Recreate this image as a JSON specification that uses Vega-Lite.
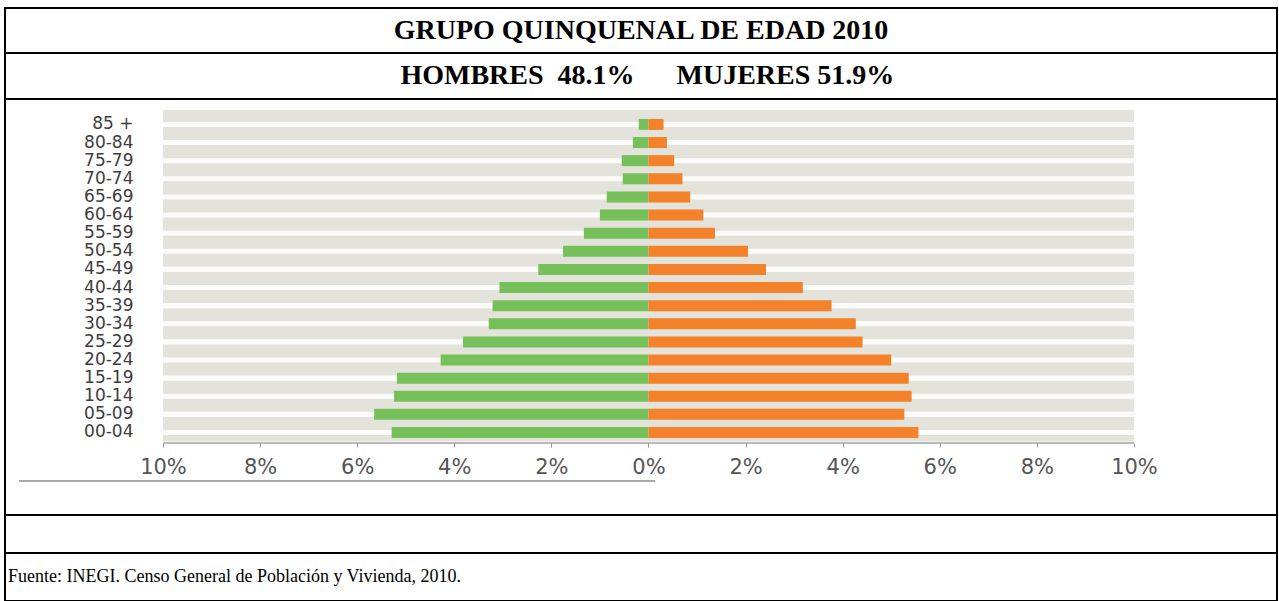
{
  "$schema": "https://vega.github.io/schema/vega-lite/v6.json",
  "background": "white",
  "padding": {"left": 4, "top": 7, "right": 1, "bottom": 0},
  "spacing": 0,
  "bounds": "flush",
  "datasets": {
    "grupos": [
      {"edad": "85 +"}, {"edad": "80-84"}, {"edad": "75-79"}, {"edad": "70-74"}, {"edad": "65-69"}, {"edad": "60-64"},
      {"edad": "55-59"}, {"edad": "50-54"}, {"edad": "45-49"}, {"edad": "40-44"}, {"edad": "35-39"}, {"edad": "30-34"},
      {"edad": "25-29"}, {"edad": "20-24"}, {"edad": "15-19"}, {"edad": "10-14"}, {"edad": "05-09"}, {"edad": "00-04"}
    ],
    "piramide": [
      {"edad": "85 +", "sexo": "Hombres", "pct": -0.2}, {"edad": "85 +", "sexo": "Mujeres", "pct": 0.31},
      {"edad": "80-84", "sexo": "Hombres", "pct": -0.32}, {"edad": "80-84", "sexo": "Mujeres", "pct": 0.38},
      {"edad": "75-79", "sexo": "Hombres", "pct": -0.55}, {"edad": "75-79", "sexo": "Mujeres", "pct": 0.53},
      {"edad": "70-74", "sexo": "Hombres", "pct": -0.53}, {"edad": "70-74", "sexo": "Mujeres", "pct": 0.7},
      {"edad": "65-69", "sexo": "Hombres", "pct": -0.86}, {"edad": "65-69", "sexo": "Mujeres", "pct": 0.86},
      {"edad": "60-64", "sexo": "Hombres", "pct": -1.0}, {"edad": "60-64", "sexo": "Mujeres", "pct": 1.13},
      {"edad": "55-59", "sexo": "Hombres", "pct": -1.33}, {"edad": "55-59", "sexo": "Mujeres", "pct": 1.37},
      {"edad": "50-54", "sexo": "Hombres", "pct": -1.76}, {"edad": "50-54", "sexo": "Mujeres", "pct": 2.05},
      {"edad": "45-49", "sexo": "Hombres", "pct": -2.27}, {"edad": "45-49", "sexo": "Mujeres", "pct": 2.42},
      {"edad": "40-44", "sexo": "Hombres", "pct": -3.07}, {"edad": "40-44", "sexo": "Mujeres", "pct": 3.18},
      {"edad": "35-39", "sexo": "Hombres", "pct": -3.21}, {"edad": "35-39", "sexo": "Mujeres", "pct": 3.77},
      {"edad": "30-34", "sexo": "Hombres", "pct": -3.29}, {"edad": "30-34", "sexo": "Mujeres", "pct": 4.27},
      {"edad": "25-29", "sexo": "Hombres", "pct": -3.82}, {"edad": "25-29", "sexo": "Mujeres", "pct": 4.41},
      {"edad": "20-24", "sexo": "Hombres", "pct": -4.28}, {"edad": "20-24", "sexo": "Mujeres", "pct": 5.0},
      {"edad": "15-19", "sexo": "Hombres", "pct": -5.18}, {"edad": "15-19", "sexo": "Mujeres", "pct": 5.36},
      {"edad": "10-14", "sexo": "Hombres", "pct": -5.24}, {"edad": "10-14", "sexo": "Mujeres", "pct": 5.42},
      {"edad": "05-09", "sexo": "Hombres", "pct": -5.65}, {"edad": "05-09", "sexo": "Mujeres", "pct": 5.27},
      {"edad": "00-04", "sexo": "Hombres", "pct": -5.29}, {"edad": "00-04", "sexo": "Mujeres", "pct": 5.56}
    ]
  },
  "vconcat": [
    {
      "width": 1272, "height": 45,
      "data": {"values": [{"texto": "GRUPO QUINQUENAL DE EDAD 2010"}]},
      "mark": {"type": "text", "font": "Liberation Serif", "fontWeight": "bold", "fontSize": 28, "color": "#000"},
      "encoding": {
        "text": {"field": "texto"},
        "x": {"datum": 0.5, "type": "quantitative", "scale": {"domain": [0, 1]}, "axis": null}
      }
    },
    {
      "width": 1272, "height": 46,
      "data": {"values": [{"texto": "HOMBRES\u00a0\u00a048.1%\u00a0\u00a0\u00a0\u00a0\u00a0\u00a0MUJERES 51.9%"}]},
      "mark": {"type": "text", "font": "Liberation Serif", "fontWeight": "bold", "fontSize": 28, "color": "#000"},
      "encoding": {
        "text": {"field": "texto"},
        "x": {"datum": 0.505, "type": "quantitative", "scale": {"domain": [0, 1]}, "axis": null}
      }
    },
    {
      "width": 1272, "height": 416,
      "encoding": {
        "y": {"field": "edad", "type": "nominal",
              "scale": {"domain": ["85 +", "80-84", "75-79", "70-74", "65-69", "60-64", "55-59", "50-54", "45-49", "40-44", "35-39", "30-34", "25-29", "20-24", "15-19", "10-14", "05-09", "00-04"],
                        "range": [11, 343], "paddingInner": 0.393, "paddingOuter": 0.357, "align": 0.69, "round": false},
              "axis": {"offset": -158, "zindex": 2, "domain": false, "ticks": false, "labelPadding": 30,
                       "labelFont": "DejaVu Sans", "labelFontSize": 17, "labelColor": "#3d3d3d", "title": null, "grid": false}}
      },
      "layer": [
        {
          "data": {"name": "grupos"},
          "mark": {"type": "bar", "color": "#e4e3db", "height": {"band": 2.136}, "yOffset": -2.7},
          "encoding": {
            "x": {"datum": -10, "type": "quantitative", "scale": {"domain": [-13.254, 12.946], "nice": false, "zero": false}},
            "x2": {"datum": 10}
          }
        },
        {
          "data": {"name": "grupos"},
          "mark": {"type": "bar", "color": "#fbfbf9", "height": {"band": 0.46}},
          "encoding": {
            "x": {"datum": -10, "type": "quantitative"},
            "x2": {"datum": 10}
          }
        },
        {
          "data": {"name": "piramide"},
          "mark": {"type": "bar"},
          "encoding": {
            "x": {"field": "pct", "type": "quantitative", "stack": null,
                  "axis": {"offset": -72, "zindex": 2, "values": [-10, -8, -6, -4, -2, 0, 2, 4, 6, 8, 10],
                           "labelExpr": "abs(datum.value) + '%'", "domain": false, "ticks": true, "tickSize": 4, "tickColor": "#9a9a9a",
                           "labelPadding": 9, "labelFont": "DejaVu Sans", "labelFontSize": 21, "labelColor": "#555555",
                           "labelFlush": false, "title": null, "grid": false}},
            "x2": {"datum": 0},
            "color": {"field": "sexo", "type": "nominal", "scale": {"domain": ["Hombres", "Mujeres"], "range": ["#76c05a", "#f3822a"]}, "legend": null}
          }
        },
        {
          "data": {"name": "grupos"},
          "mark": {"type": "rule", "color": "#b8b8b8", "strokeWidth": 1.2, "yOffset": 5},
          "encoding": {
            "x": {"datum": -10, "type": "quantitative"},
            "x2": {"datum": 10},
            "y": {"datum": "00-04", "type": "nominal", "bandPosition": 1}
          }
        },
        {
          "data": {"name": "grupos"},
          "mark": {"type": "rule", "color": "#a8a8a8", "strokeWidth": 1, "yOffset": 43},
          "encoding": {
            "x": {"datum": -12.95, "type": "quantitative"},
            "x2": {"datum": 0.13},
            "y": {"datum": "00-04", "type": "nominal", "bandPosition": 1}
          }
        }
      ]
    },
    {
      "width": 1272, "height": 38,
      "data": {"values": [{"texto": ""}]},
      "mark": {"type": "text"},
      "encoding": {
        "text": {"field": "texto"},
        "x": {"datum": 0.5, "type": "quantitative", "scale": {"domain": [0, 1]}, "axis": null}
      }
    },
    {
      "width": 1272, "height": 48,
      "data": {"values": [{"texto": "Fuente: INEGI. Censo General de Población y Vivienda, 2010."}]},
      "mark": {"type": "text", "align": "left", "dx": 3, "font": "Liberation Serif", "fontSize": 18, "color": "#000"},
      "encoding": {
        "text": {"field": "texto"},
        "x": {"datum": 0, "type": "quantitative", "scale": {"domain": [0, 1]}, "axis": null}
      }
    }
  ],
  "config": {
    "view": {"stroke": "#000", "strokeWidth": 2},
    "concat": {"spacing": 0}
  }
}
